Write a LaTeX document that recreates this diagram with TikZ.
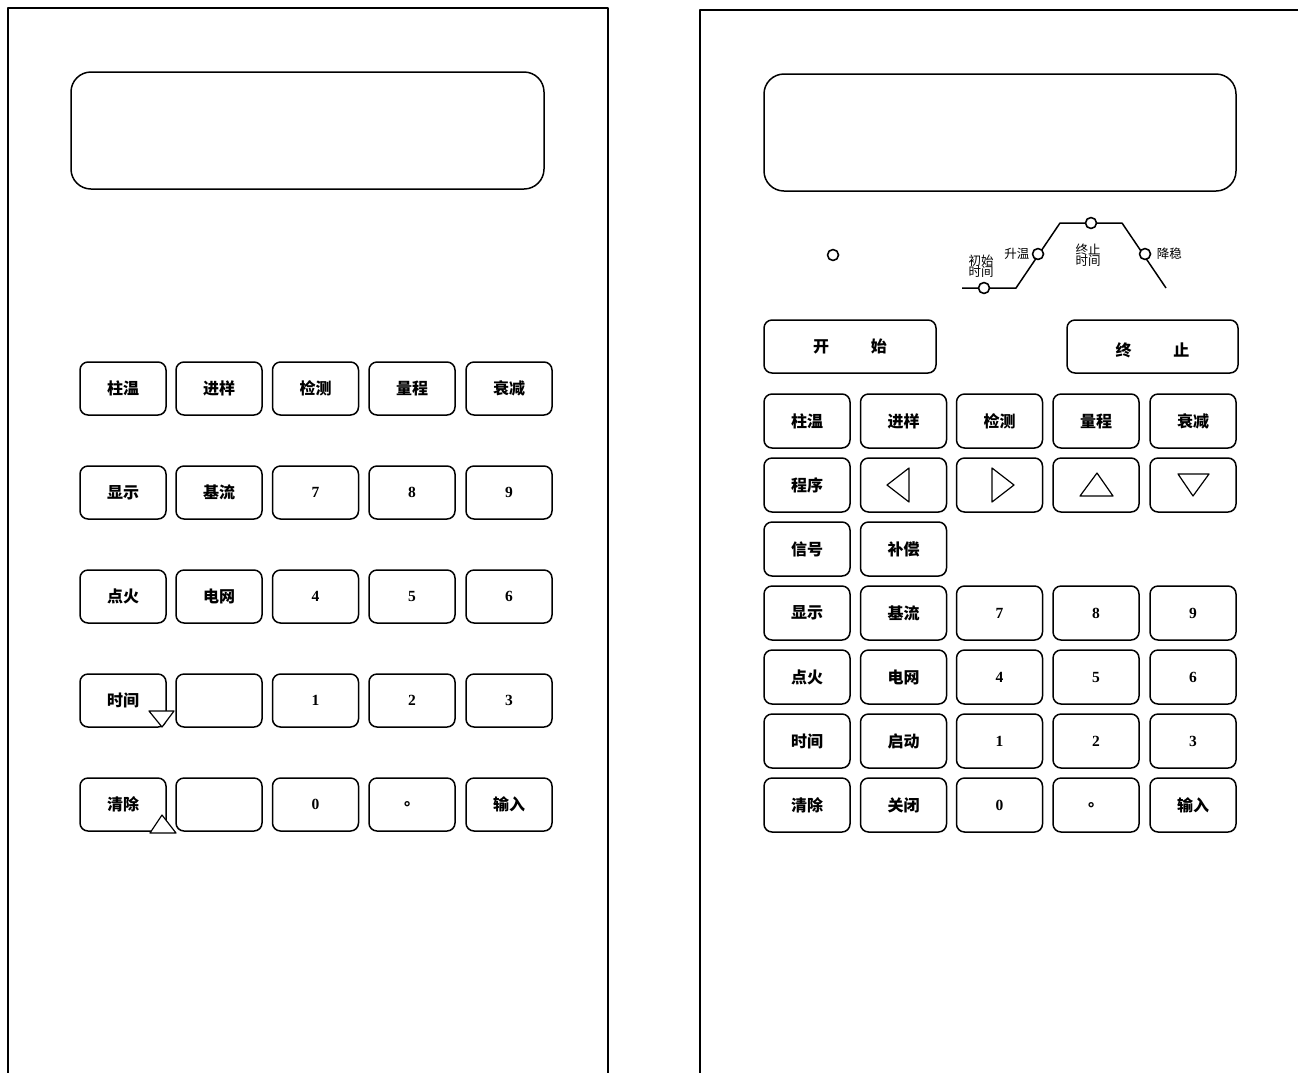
\documentclass[tikz,border=0pt]{standalone}
\usepackage{fontspec}
\newfontfamily\cjk{Noto Sans CJK SC}
\newfontfamily\tms{Liberation Serif}
\begin{document}
\begin{tikzpicture}[x=1pt,y=-1pt,
  line width=1.5pt, line join=round,
  panel/.style={draw, line width=1.5pt},
  screen/.style={draw, rounded corners=20pt, line width=1.5pt},
  key/.style={draw, rounded corners=8pt, line width=1.5pt, minimum width=86pt, minimum height=53pt, inner sep=0pt, font=\cjk\bfseries\fontsize{16}{16}\selectfont},
  rkey/.style={key, minimum height=54pt},
  keytext/.style={inner sep=0pt, font=\cjk\bfseries\fontsize{16}{16}\selectfont},
  num/.style={font=\tms\bfseries\fontsize{15.5}{15.5}\selectfont},
  lbl/.style={font=\cjk\fontsize{12.5}{11.5}\selectfont, inner sep=0pt, align=center},
  dot/.style={draw, circle, fill=white, minimum size=11pt, inner sep=0pt, line width=1.6pt},
  tri/.style={draw, line width=1.2pt}
]
\useasboundingbox (0,0) rectangle (1298,1072);
% panels
\draw[panel] (8,1080) -- (8,8) -- (608,8) -- (608,1080);
\draw[panel] (700,1080) -- (700,10) -- (1302,10);
% screens
\draw[screen] (71,72) rectangle (544,189);
\draw[screen] (764,74) rectangle (1236,191);

% ---------- left keypad ----------
\node[key] (L11) at (123,388.5) {柱温};
\node[key] (L12) at (219,388.5) {进样};
\node[key] (L13) at (315.5,388.5) {检测};
\node[key] (L14) at (412,388.5) {量程};
\node[key] (L15) at (509,388.5) {衰减};
\node[key] (L21) at (123,492.5) {显示};
\node[key] (L22) at (219,492.5) {基流};
\node[key,num] (L23) at (315.5,492.5) {7};
\node[key,num] (L24) at (412,492.5) {8};
\node[key,num] (L25) at (509,492.5) {9};
\node[key] (L31) at (123,596.5) {点火};
\node[key] (L32) at (219,596.5) {电网};
\node[key,num] (L33) at (315.5,596.5) {4};
\node[key,num] (L34) at (412,596.5) {5};
\node[key,num] (L35) at (509,596.5) {6};
\node[key] (L41) at (123,700.5) {时间};
\node[key] (L42) at (219,700.5) {};
\node[key,num] (L43) at (315.5,700.5) {1};
\node[key,num] (L44) at (412,700.5) {2};
\node[key,num] (L45) at (509,700.5) {3};
\node[key] (L51) at (123,804.5) {清除};
\node[key] (L52) at (219,804.5) {};
\node[key,num] (L53) at (315.5,804.5) {0};
\node[key] (L54) at (412,804.5) {。};
\node[key] (L55) at (509,804.5) {输入};
% small triangles
\draw[tri, fill=white] (149,711) -- (174,711) -- (162,727) -- cycle;
\draw[tri, fill=white] (150,833) -- (176,833) -- (162,815) -- cycle;

% ---------- right keypad ----------
% status lamp and curve
\node[dot] (lamp) at (833,255) {};
\coordinate (c0) at (962,288);
\coordinate (c1) at (1016,288);
\coordinate (c2) at (1060,223);
\coordinate (c3) at (1122,223);
\coordinate (c4) at (1166,288);
\draw (c0) -- (c1) -- (c2) -- (c3) -- (c4);
\node[dot] (d1) at (984,288) {};
\node[dot] (d2) at (1038,254) {};
\node[dot] (d3) at (1091,223) {};
\node[dot] (d4) at (1145,254) {};
\node[lbl] (t1) at (981,266) {初始\\时间};
\node[lbl, anchor=east] (t2) at (1030,254) {升温};
\node[lbl] (t3) at (1088,255) {终止\\时间};
\node[lbl, anchor=west] (t4) at (1156,254) {降稳};

\node[key, minimum width=172pt] (start) at (850,346.5) {开\hspace{2.6em}始};
\node[key, minimum width=171pt] (stop) at (1152.5,346.5) {};
\node[keytext] (stoptext) at (1152.5,350) {终\hspace{2.6em}止};

\node[rkey] (R11) at (807,421) {柱温};
\node[rkey] (R12) at (903.5,421) {进样};
\node[rkey] (R13) at (999.5,421) {检测};
\node[rkey] (R14) at (1096,421) {量程};
\node[rkey] (R15) at (1193,421) {衰减};
\node[rkey] (R21) at (807,485) {程序};
\node[rkey] (R22) at (903.5,485) {};
\node[rkey] (R23) at (999.5,485) {};
\node[rkey] (R24) at (1096,485) {};
\node[rkey] (R25) at (1193,485) {};
\draw[tri] (909,468) -- (887,485) -- (909,502) -- cycle;
\draw[tri] (992,468) -- (1014,485) -- (992,502) -- cycle;
\draw[tri] (1080,496) -- (1097,473) -- (1113,496) -- cycle;
\draw[tri] (1178,474) -- (1209,474) -- (1193,496) -- cycle;
\node[rkey] (R31) at (807,549) {信号};
\node[rkey] (R32) at (903.5,549) {补偿};
\node[rkey] (R41) at (807,613) {显示};
\node[rkey] (R42) at (903.5,613) {基流};
\node[rkey,num] (R43) at (999.5,613) {7};
\node[rkey,num] (R44) at (1096,613) {8};
\node[rkey,num] (R45) at (1193,613) {9};
\node[rkey] (R51) at (807,677) {点火};
\node[rkey] (R52) at (903.5,677) {电网};
\node[rkey,num] (R53) at (999.5,677) {4};
\node[rkey,num] (R54) at (1096,677) {5};
\node[rkey,num] (R55) at (1193,677) {6};
\node[rkey] (R61) at (807,741) {时间};
\node[rkey] (R62) at (903.5,741) {启动};
\node[rkey,num] (R63) at (999.5,741) {1};
\node[rkey,num] (R64) at (1096,741) {2};
\node[rkey,num] (R65) at (1193,741) {3};
\node[rkey] (R71) at (807,805) {清除};
\node[rkey] (R72) at (903.5,805) {关闭};
\node[rkey,num] (R73) at (999.5,805) {0};
\node[rkey] (R74) at (1096,805) {。};
\node[rkey] (R75) at (1193,805) {输入};
\end{tikzpicture}
\end{document}
